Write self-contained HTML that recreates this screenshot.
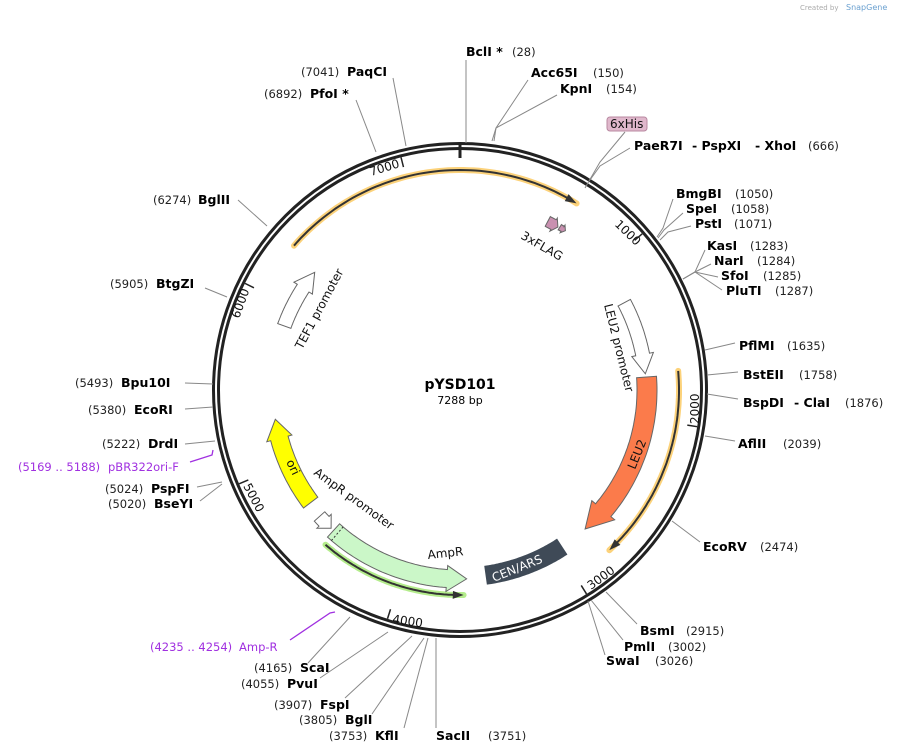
<!DOCTYPE html>
<html><head><meta charset="utf-8">
<style>
html,body{margin:0;padding:0;background:#fff;}
svg{display:block;font-family:"DejaVu Sans","Liberation Sans",sans-serif;}
.b{font-weight:bold;font-size:12.5px;fill:#000;}
.n{font-size:11.5px;fill:#222;}
.p{font-size:11.5px;fill:#a030e0;}
.l{stroke:#888;stroke-width:1;fill:none;}
.t{font-size:12px;fill:#111;}
</style></head><body>
<svg id="s" width="897" height="754" viewBox="0 0 897 754" xmlns="http://www.w3.org/2000/svg">
<text x="800" y="10" font-size="7" fill="#aaa">Created by</text>
<text x="846" y="10" font-size="8" fill="#6aa0d0">SnapGene</text>
<g id="geo"></g>
<circle cx="460" cy="390" r="246.5" fill="none" stroke="#222" stroke-width="3"/>
<circle cx="460" cy="390" r="241.5" fill="none" stroke="#222" stroke-width="3"/>
<line x1="460" y1="143" x2="460" y2="158" stroke="#222" stroke-width="3"/>
<g class="l">
<polyline points="466,143 466,60"/>
<polyline points="492,141 496,128 528,80"/>
<polyline points="494,141 496,128 557,95"/>
<polyline points="406,146 393,78"/>
<polyline points="376,152 356,100"/>
<polyline points="590,180 600,166 630,148"/>
<polyline points="585,188 600,162 625,132"/>
<polyline points="657,237 663,228 673,199"/>
<polyline points="658,238 664,230 683,213"/>
<polyline points="660,240 668,232 691,226"/>
<polyline points="683,279 695,272 705,250"/>
<polyline points="683,279 695,272 711,264"/>
<polyline points="683,279 695,272 718,277"/>
<polyline points="683,279 695,272 722,290"/>
<polyline points="705,350 735,343"/>
<polyline points="707,375 738,372"/>
<polyline points="707,394 738,399"/>
<polyline points="705,436 735,441"/>
<polyline points="672,521 700,542"/>
<polyline points="606,592 637,624"/>
<polyline points="591,600 623,640"/>
<polyline points="588,601 605,655"/>
<polyline points="436,638 436,728"/>
<polyline points="428,638 404,728"/>
<polyline points="424,638 372,714"/>
<polyline points="412,636 345,698"/>
<polyline points="388,632 320,678"/>
<polyline points="350,617 308,663"/>
<polyline points="267,226 238,200"/>
<polyline points="227,297 205,288"/>
<polyline points="213,384 185,383"/>
<polyline points="213,407 185,409"/>
<polyline points="215,441 185,444"/>
<polyline points="222,482 197,487"/>
<polyline points="222,484 200,501"/>
</g>
<polyline points="190,462 212,455 213,450" fill="none" stroke="#a030e0" stroke-width="1.3"/>
<polyline points="290,640 330,613 335,612" fill="none" stroke="#a030e0" stroke-width="1.3"/>
<text x="466" y="56" class="b">BclI *</text><text x="512" y="56" class="n">(28)</text>
<text x="531" y="77" class="b">Acc65I</text><text x="593" y="77" class="n">(150)</text>
<text x="560" y="93" class="b">KpnI</text><text x="606" y="93" class="n">(154)</text>
<text x="301" y="76" class="n">(7041)</text><text x="347" y="76" class="b">PaqCI</text>
<text x="264" y="98" class="n">(6892)</text><text x="310" y="98" class="b">PfoI *</text>
<rect x="607" y="117" width="40" height="14" rx="3" fill="#e0b8cc" stroke="#b888a0"/>
<text x="610" y="128" class="t" font-size="12">6xHis</text>
<text x="634" y="150" class="b">PaeR7I</text><text x="692" y="150" class="b">- PspXI</text><text x="755" y="150" class="b">- XhoI</text><text x="808" y="150" class="n">(666)</text>
<text x="676" y="198" class="b">BmgBI</text><text x="735" y="198" class="n">(1050)</text>
<text x="686" y="213" class="b">SpeI</text><text x="731" y="213" class="n">(1058)</text>
<text x="695" y="228" class="b">PstI</text><text x="734" y="228" class="n">(1071)</text>
<text x="707" y="250" class="b">KasI</text><text x="750" y="250" class="n">(1283)</text>
<text x="714" y="265" class="b">NarI</text><text x="757" y="265" class="n">(1284)</text>
<text x="721" y="280" class="b">SfoI</text><text x="763" y="280" class="n">(1285)</text>
<text x="726" y="295" class="b">PluTI</text><text x="775" y="295" class="n">(1287)</text>
<text x="739" y="350" class="b">PflMI</text><text x="787" y="350" class="n">(1635)</text>
<text x="743" y="379" class="b">BstEII</text><text x="799" y="379" class="n">(1758)</text>
<text x="743" y="407" class="b">BspDI</text><text x="794" y="407" class="b">- ClaI</text><text x="845" y="407" class="n">(1876)</text>
<text x="738" y="448" class="b">AflII</text><text x="783" y="448" class="n">(2039)</text>
<text x="703" y="551" class="b">EcoRV</text><text x="760" y="551" class="n">(2474)</text>
<text x="640" y="635" class="b">BsmI</text><text x="686" y="635" class="n">(2915)</text>
<text x="624" y="651" class="b">PmlI</text><text x="668" y="651" class="n">(3002)</text>
<text x="606" y="665" class="b">SwaI</text><text x="655" y="665" class="n">(3026)</text>
<text x="436" y="740" class="b">SacII</text><text x="488" y="740" class="n">(3751)</text>
<text x="329" y="740" class="n">(3753)</text><text x="375" y="740" class="b">KflI</text>
<text x="299" y="724" class="n">(3805)</text><text x="345" y="724" class="b">BglI</text>
<text x="274" y="709" class="n">(3907)</text><text x="320" y="709" class="b">FspI</text>
<text x="241" y="688" class="n">(4055)</text><text x="287" y="688" class="b">PvuI</text>
<text x="254" y="672" class="n">(4165)</text><text x="300" y="672" class="b">ScaI</text>
<text x="150" y="651" class="p">(4235 .. 4254)</text><text x="239" y="651" class="p" font-size="13">Amp-R</text>
<text x="153" y="204" class="n">(6274)</text><text x="198" y="204" class="b">BglII</text>
<text x="110" y="288" class="n">(5905)</text><text x="156" y="288" class="b">BtgZI</text>
<text x="75" y="387" class="n">(5493)</text><text x="121" y="387" class="b">Bpu10I</text>
<text x="88" y="414" class="n">(5380)</text><text x="134" y="414" class="b">EcoRI</text>
<text x="102" y="448" class="n">(5222)</text><text x="148" y="448" class="b">DrdI</text>
<text x="18" y="471" class="p">(5169 .. 5188)</text><text x="108" y="471" class="p" font-size="12.5">pBR322ori-F</text>
<text x="105" y="493" class="n">(5024)</text><text x="151" y="493" class="b">PspFI</text>
<text x="108" y="508" class="n">(5020)</text><text x="154" y="508" class="b">BseYI</text>
<text class="t" font-size="11.5" transform="translate(371,176) rotate(-17)">7000</text>
<text class="t" font-size="11.5" transform="translate(614,225) rotate(44)">1000</text>
<text class="t" font-size="11.5" transform="translate(699,424) rotate(-90)">2000</text>
<text class="t" font-size="11.5" transform="translate(591,590) rotate(-36)">3000</text>
<text class="t" font-size="11.5" transform="translate(392,623) rotate(8)">4000</text>
<text class="t" font-size="11.5" transform="translate(243,486) rotate(62)">5000</text>
<text class="t" font-size="11.5" transform="translate(239,319) rotate(-70)">6000</text>
<text x="460" y="389" text-anchor="middle" font-weight="bold" font-size="14">pYSD101</text>
<text x="460" y="404" text-anchor="middle" font-size="11">7288 bp</text>
<text class="t" transform="translate(302,350) rotate(-62)">TEF1 promoter</text>
<text class="t" transform="translate(604,305) rotate(76)">LEU2 promoter</text>
<text class="t" transform="translate(635,470) rotate(-68)">LEU2</text>
<text class="t" transform="translate(286,462) rotate(64)">ori</text>
<text class="t" transform="translate(313,474) rotate(36)">AmpR promoter</text>
<text class="t" transform="translate(428,559) rotate(-6)">AmpR</text>
<text style="fill:#fff;font-size:12px" transform="translate(494,582) rotate(-22)">CEN/ARS</text>
<text class="t" transform="translate(520,238) rotate(30)">3xFLAG</text>
</svg>
<script>
(function(){
var cx=460,cy=390,g=document.getElementById('geo'),NS='http://www.w3.org/2000/svg';
function P(r,a){a=a*Math.PI/180;return [cx+r*Math.sin(a),cy-r*Math.cos(a)];}
function add(tag,at){var e=document.createElementNS(NS,tag);for(var k in at)e.setAttribute(k,at[k]);g.appendChild(e);return e;}
function arcPath(r,a1,a2){var n=60,s='';for(var i=0;i<=n;i++){var p=P(r,a1+(a2-a1)*i/n);s+=(i?'L':'M')+p[0].toFixed(1)+','+p[1].toFixed(1);}return s;}
function arrow(r,a1,a2,w,hw,hl,fill,stroke){
 var dir=a2>a1?1:-1,ab=a2-dir*hl,pts=[],n=40,i;
 for(i=0;i<=n;i++)pts.push(P(r+w/2,a1+(ab-a1)*i/n));
 if(hl>0){pts.push(P(r+hw/2,ab));pts.push(P(r,a2));pts.push(P(r-hw/2,ab));}
 for(i=n;i>=0;i--)pts.push(P(r-w/2,a1+(ab-a1)*i/n));
 add('polygon',{points:pts.map(function(p){return p[0].toFixed(1)+','+p[1].toFixed(1)}).join(' '),fill:fill,stroke:stroke,'stroke-width':1});
}
function orf(r,a1,a2,hc){
 add('path',{d:arcPath(r,a1,a2),fill:'none',stroke:hc,'stroke-width':6,'stroke-linecap':'round'});
 var dir=a2>a1?1:-1;
 add('path',{d:arcPath(r,a1,a2-dir*1.5),fill:'none',stroke:'#333','stroke-width':2});
 var t=P(r,a2),b1=P(r+4,a2-dir*3),b2=P(r-4,a2-dir*3);
 add('polygon',{points:t+' '+b1+' '+b2,fill:'#333'});
}
for(var k=1;k<=7;k++){var a=k*1000/7288*360,p1=P(240,a),p2=P(230,a);add('line',{x1:p1[0],y1:p1[1],x2:p2[0],y2:p2[1],stroke:'#222','stroke-width':1.5});}
orf(220,-49,32,'#fcd27a');
orf(219,85,137,'#fcd27a');
orf(205,221,179,'#b4ec8c');
arrow(187,-70,-51,14,22,6,'#fff','#666');
arrow(186,62,85,14,22,6,'#fff','#666');
arrow(187,86,138,20,30,8,'#fb7b4b','#666');
arrow(187,147,172,18,0,0,'#3f4a57','#3f4a57');
arrow(189,222,178,18,26,6,'#cbf7c8','#666');
arrow(189,228,223,14,20,3,'#fff','#666');
arrow(187,233,261,18,26,6,'#ffff00','#666');
arrow(190,27.5,31,11,15,1.5,'#c990b0','#666');
arrow(191,31.5,33.5,6,9,1,'#c990b0','#666');
var d1=P(180,220.5),d2=P(198,220.5);add('line',{x1:d1[0],y1:d1[1],x2:d2[0],y2:d2[1],stroke:'#333','stroke-dasharray':'2,2'});
})();
</script>
</body></html>
